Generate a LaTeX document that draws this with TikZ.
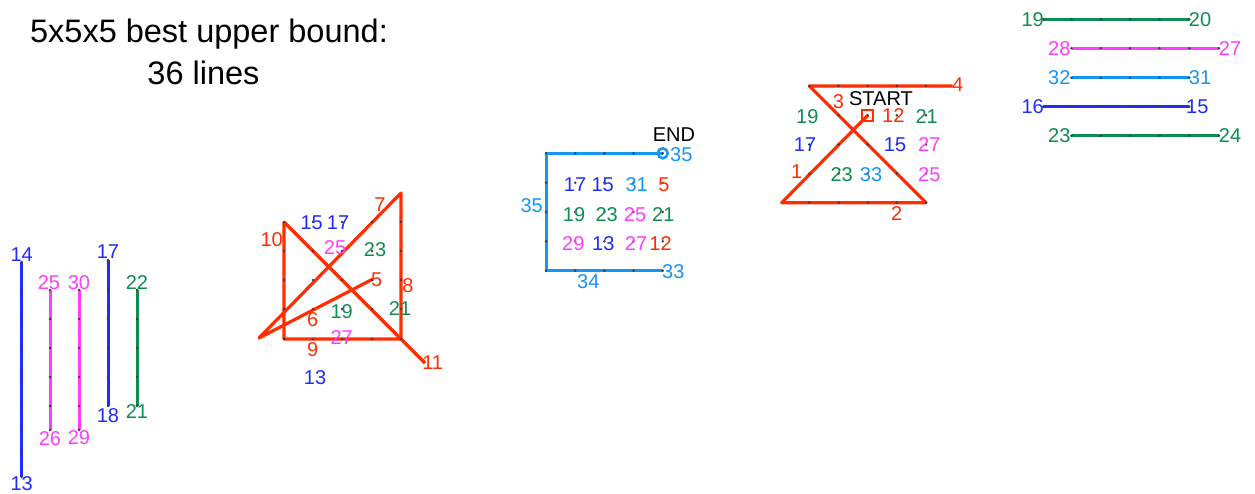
\documentclass[tikz,border=0pt]{standalone}
\usepackage{fontspec}
\setmainfont{Liberation Sans}
\usetikzlibrary{calc}
\definecolor{cred}{RGB}{255,45,0}
\definecolor{cblue}{RGB}{30,45,250}
\definecolor{cmag}{RGB}{255,60,255}
\definecolor{cgreen}{RGB}{15,140,80}
\definecolor{clblue}{RGB}{20,150,245}
\definecolor{cdot}{RGB}{60,60,60}
\begin{document}
\begin{tikzpicture}[x=1pt,y=-1pt,
  lbl/.style={inner sep=0pt, font=\fontsize{20}{24}\selectfont},
  ttl/.style={inner sep=0pt, anchor=base, font=\fontsize{32.5}{38}\selectfont},
  seg/.style={line width=3pt},
  rseg/.style={line width=3.2pt, cred, line join=round},
  gdot/.style={circle, fill=cdot, inner sep=0pt, minimum size=2.8pt}]
\useasboundingbox (0,0) rectangle (1255,493);
\fill[white] (0,0) rectangle (1255,493);
% title
\node[ttl] (t1) at (209,42) {5x5x5 best upper bound:};
\node[ttl] (t2) at (203.5,84) {36 lines};

% ---------- left vertical lines ----------
\coordinate (a1) at (21.7,262); \coordinate (a2) at (21.7,477);
\coordinate (b1) at (50,290);   \coordinate (b2) at (50,430);
\coordinate (c1) at (79,290);   \coordinate (c2) at (79,430);
\coordinate (d1) at (108,260);  \coordinate (d2) at (108,406);
\coordinate (e1) at (137,290);  \coordinate (e2) at (137,406);
\draw[seg,cblue] (a1) -- (a2);
\draw[seg,cmag] (b1) -- (b2);
\draw[seg,cmag] (c1) -- (c2);
\draw[seg,cblue] (d1) -- (d2);
\draw[seg,cgreen] (e1) -- (e2);
\foreach \y in {262,290,319,348,377,406,430,453,477} \node[gdot] at (21.7,\y) {};
\foreach \y in {290,319,348,377,406,430} {\node[gdot] at (50,\y) {}; \node[gdot] at (79,\y) {};}
\foreach \y in {260,290,319,348,377,406} \node[gdot] at (108,\y) {};
\foreach \y in {290,319,348,377,406} \node[gdot] at (137,\y) {};
\node[lbl,cblue] (l14) at (21.7,255) {14};
\node[lbl,cblue] (l13) at (21.7,483.5) {13};
\node[lbl,cmag] (l25) at (49,283) {25};
\node[lbl,cmag] (l26) at (50,439) {26};
\node[lbl,cmag] (l30) at (79,283) {30};
\node[lbl,cmag] (l29) at (79,438) {29};
\node[lbl,cblue] (l17) at (108,252) {17};
\node[lbl,cblue] (l18) at (108,416) {18};
\node[lbl,cgreen] (l22) at (137,283) {22};
\node[lbl,cgreen] (l21) at (137,412) {21};

% ---------- red figure ----------
\coordinate (p10) at (284,222);
\coordinate (pbl) at (284,339);
\coordinate (pbr) at (401,339);
\coordinate (p7) at (401,193);
\coordinate (p6) at (259,338);
\coordinate (p5) at (373,279);
\coordinate (p11) at (425,363);
\draw[rseg] (p10) -- (pbl) -- (pbr) -- (p7) -- (p6) -- (p5);
\draw[rseg] (p10) -- (p11);
\foreach \x in {284,313,342,372,401} \foreach \y in {222,251,280,309,339} \node[gdot] at (\x,\y) {};
\node[lbl,cred] (r7) at (380,205) {7};
\node[lbl,cred] (r10) at (271.7,240) {10};
\node[lbl,cblue] (r15) at (311.7,223) {15};
\node[lbl,cblue] (r17) at (338,223) {17};
\node[lbl,cmag] (r25) at (335,248) {25};
\node[lbl,cgreen] (r23) at (375,250) {23};
\node[lbl,cred] (r5) at (376.7,280) {5};
\node[lbl,cred] (r8) at (408,286) {8};
\node[lbl,cred] (r6) at (312.7,320) {6};
\node[lbl,cgreen] (r19) at (341.7,311.7) {19};
\node[lbl,cgreen] (r21) at (400,309) {21};
\node[lbl,cmag] (r27) at (341.7,338) {27};
\node[lbl,cred] (r9) at (312.7,350) {9};
\node[lbl,cred] (r11) at (432.7,362.7) {11};
\node[lbl,cblue] (r13) at (315,378) {13};

% ---------- light blue box ----------
\coordinate (qtr) at (662.7,153.3);
\coordinate (qtl) at (546,153.3);
\coordinate (qbl) at (546,270.7);
\coordinate (qbr) at (662.7,270.7);
\draw[seg,clblue,line join=miter] (qtr) -- (qtl) -- (qbl) -- (qbr);
\draw[clblue,line width=2.5pt] (qtr) circle (5);
\foreach \x in {546,575.2,604.4,633.5,662.7} \foreach \y in {153.3,182.7,212,241.3,270.7} \node[gdot] at (\x,\y) {};
\node[lbl] (qend) at (674,135) {END};
\node[lbl,clblue,anchor=west] (q35a) at (670,154.3) {35};
\node[lbl,clblue] (q35b) at (531.7,206) {35};
\node[lbl,cblue] (q17) at (575,185) {17};
\node[lbl,cblue] (q15) at (602.7,185) {15};
\node[lbl,clblue] (q31) at (636.7,185) {31};
\node[lbl,cred] (q5) at (664,185) {5};
\node[lbl,cgreen] (q19) at (574,214.3) {19};
\node[lbl,cgreen] (q23) at (606.7,214.3) {23};
\node[lbl,cmag] (q25) at (635,214.3) {25};
\node[lbl,cgreen] (q21) at (663.3,214.3) {21};
\node[lbl,cmag] (q29) at (573.3,243.3) {29};
\node[lbl,cblue] (q13) at (603.3,243.3) {13};
\node[lbl,cmag] (q27) at (636,243.3) {27};
\node[lbl,cred] (q12) at (660.5,243.3) {12};
\node[lbl,clblue] (q33) at (673.3,271.7) {33};
\node[lbl,clblue] (q34) at (588.3,281.7) {34};

% ---------- hourglass ----------
\coordinate (ha) at (809.3,86);
\coordinate (hb) at (952.7,86);
\coordinate (hc) at (926,202.7);
\coordinate (hd) at (781.7,202.7);
\coordinate (hs) at (867.7,115.3);
\draw[rseg] (hb) -- (ha) -- (hc) -- (hd) -- (hs);
\draw[cred,line width=2pt] ($(hs)+(-5.5,-5.5)$) rectangle ($(hs)+(5.5,5.5)$);
\foreach \x in {809.3,838.5,867.7,896.8,926} \foreach \y in {86,115.3,144.5,173.6,202.7} \node[gdot] at (\x,\y) {};
\node[lbl,cred] (h3) at (838.3,101.7) {3};
\node[lbl] (hstart) at (881,98.3) {START};
\node[lbl,cred,anchor=west] (h4) at (952,85) {4};
\node[lbl,cgreen] (h19) at (807.3,116.7) {19};
\node[lbl,cred] (h12) at (893.3,115.5) {12};
\node[lbl,cgreen] (h21) at (926.7,116.7) {21};
\node[lbl,cblue] (h17) at (805,145) {17};
\node[lbl,cblue] (h15) at (895,144.5) {15};
\node[lbl,cmag] (h27) at (929.3,144.5) {27};
\node[lbl,cred] (h1) at (796.7,171.7) {1};
\node[lbl,cgreen] (h23) at (841.7,175) {23};
\node[lbl,clblue] (h33) at (871,175) {33};
\node[lbl,cmag] (h25) at (929.3,175) {25};
\node[lbl,cred] (h2) at (896.7,213.3) {2};

% ---------- right horizontal lines ----------
\coordinate (s1a) at (1043.3,19.3);  \coordinate (s1b) at (1189.3,19.3);
\coordinate (s2a) at (1071.5,48.3);  \coordinate (s2b) at (1219,48.3);
\coordinate (s3a) at (1071.5,77.7);  \coordinate (s3b) at (1189.3,77.7);
\coordinate (s4a) at (1043.3,106.7); \coordinate (s4b) at (1189.3,106.7);
\coordinate (s5a) at (1071.5,135.7); \coordinate (s5b) at (1219,135.7);
\draw[seg,cgreen] (s1a) -- (s1b);
\draw[seg,cmag] (s2a) -- (s2b);
\draw[seg,clblue] (s3a) -- (s3b);
\draw[seg,cblue] (s4a) -- (s4b);
\draw[seg,cgreen] (s5a) -- (s5b);
\foreach \x in {1043.3,1071.5,1100.7,1130,1159.5,1189.3} {\node[gdot] at (\x,19.3) {}; \node[gdot] at (\x,106.7) {};}
\foreach \x in {1071.5,1100.7,1130,1159.5,1189.3,1219} {\node[gdot] at (\x,48.3) {}; \node[gdot] at (\x,135.7) {};}
\foreach \x in {1071.5,1100.7,1130,1159.5,1189.3} \node[gdot] at (\x,77.7) {};
\node[lbl,cgreen] (n19) at (1032.7,19.3) {19};
\node[lbl,cgreen] (n20) at (1200,19.3) {20};
\node[lbl,cmag] (n28) at (1059.3,48.3) {28};
\node[lbl,cmag] (n27) at (1230,48.3) {27};
\node[lbl,clblue] (n32) at (1059.3,77.7) {32};
\node[lbl,clblue] (n31) at (1200,77.7) {31};
\node[lbl,cblue] (n16) at (1032.7,106.7) {16};
\node[lbl,cblue] (n15) at (1197.3,106.7) {15};
\node[lbl,cgreen] (n23) at (1059.3,135.7) {23};
\node[lbl,cgreen] (n24) at (1230,135.7) {24};
\end{tikzpicture}
\end{document}
